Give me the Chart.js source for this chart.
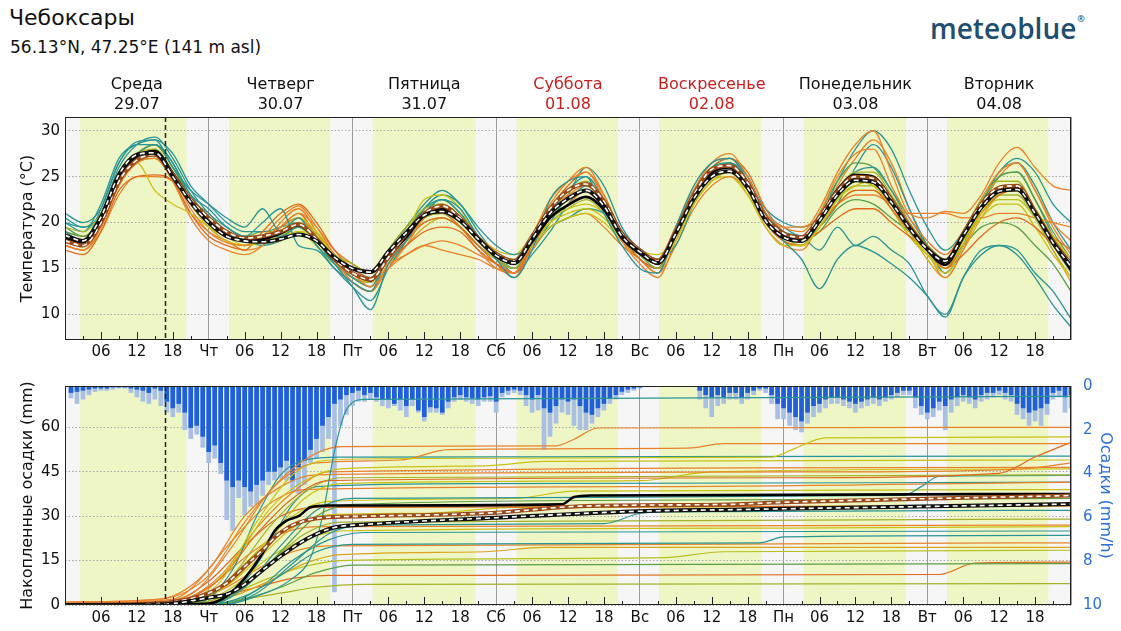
<!DOCTYPE html>
<html lang="ru">
<head>
<meta charset="utf-8">
<title>Чебоксары</title>
<script src="https://cdn.jsdelivr.net/npm/chart.js@4/dist/chart.umd.min.js"></script>
<style>
  html, body { margin: 0; padding: 0; background: #fff; }
  body { width: 1121px; height: 631px; position: relative; overflow: hidden; font-family: "DejaVu Sans", sans-serif; color: #111; }
  .abs { position: absolute; }
  #place { left: 9px; top: 5px; font-size: 22px; }
  #coords { left: 10px; top: 37px; font-size: 17px; }
  #logo { left: 930px; top: 9px; font-family: "Open Sans", sans-serif; font-weight: 600; font-size: 28px; color: #1f4e6f; }
  #logo sup { font-size: 9px; vertical-align: top; position: relative; top: 3px; margin-left: 1px; }
  #tempChart { left: 0; top: 60px; }
  #precipChart { left: 0; top: 372px; }
</style>
</head>
<body>
<div id="place" class="abs">Чебоксары</div>
<div id="coords" class="abs">56.13°N, 47.25°E (141 m asl)</div>
<div id="logo" class="abs">meteoblue<sup>®</sup></div>
<canvas id="tempChart" class="abs" width="1121" height="312"></canvas>
<canvas id="precipChart" class="abs" width="1121" height="259"></canvas>
<script>
Chart.defaults.font.family = '"DejaVu Sans", sans-serif';
Chart.defaults.color = '#111';

// ---- labels / ticks ----
const dayNames = ['Среда', 'Четверг', 'Пятница', 'Суббота', 'Воскресенье', 'Понедельник', 'Вторник'];
const dayDates = ['29.07', '30.07', '31.07', '01.08', '02.08', '03.08', '04.08'];
const weekend = [false, false, false, true, true, false, false];
const dayAbbr = ['Ср', 'Чт', 'Пт', 'Сб', 'Вс', 'Пн', 'Вт', 'Ср'];
const tempTicks = [10, 15, 20, 25, 30];
const precipTicks = [0, 15, 30, 45, 60];
const rateTicks = [0, 2, 4, 6, 8, 10];

// daylight (hours after midnight) and current time
const sunrise = [2.5, 3.4, 3.4, 3.4, 3.2, 3.3, 3.3];
const sunset = [20.3, 20.3, 20.5, 20.3, 20.3, 20.4, 20.2];
const nowHour = 16.7;

// ---- temperature, every 3 hours from Wed 00:00 ----
const tempHours = Array.from({length: 57}, (_, i) => i * 3);

const tempMean = [18.3,17.8,20.3,25.0,27.2,27.8,25.4,22.5, 20.3,18.8,18.1,18.2,18.8,19.7,18.1,15.9,
  14.5,13.7,16.3,18.4,20.8,21.5,20.3,18.1, 16.3,15.5,17.9,20.5,21.9,22.8,21.4,18.3,
  16.6,15.5,18.8,22.8,25.4,26.0,23.9,20.3, 18.4,18.3,20.6,23.6,25.2,25.0,22.6,19.5,
  17.0,15.4,18.4,21.7,23.7,23.9,21.0,17.7, 14.8];
const tempDashA = [18.0,17.5,20.0,24.5,26.8,27.4,25.2,22.5, 20.5,19.0,18.3,18.5,19.0,19.8,18.2,16.0,
  14.5,13.8,16.2,18.8,21.0,21.8,20.5,18.3, 16.6,15.8,18.5,21.5,23.5,24.2,22.3,18.8,
  17.0,15.8,19.0,23.0,25.8,26.2,24.3,20.6, 18.8,18.4,20.6,23.4,25.0,24.8,22.5,19.6,
  17.2,15.8,18.8,22.0,23.8,24.0,21.2,18.0, 15.5];
const tempDashB = [18.6,18.0,20.6,25.2,27.4,27.6,25.0,22.2, 20.0,18.5,18.0,17.9,18.2,18.7,18.0,16.2,
  15.0,14.6,16.8,18.9,20.8,21.2,20.2,18.2, 16.4,15.6,18.2,21.0,22.6,23.5,21.8,18.5,
  16.8,15.6,18.8,22.6,25.0,25.6,23.8,20.2, 18.4,18.0,20.2,23.0,24.6,24.4,22.2,19.4,
  17.1,15.8,18.6,21.6,23.4,23.6,21.0,17.8, 15.2];

const tempMembers = [
  [21.0,20.0,21.5,26.5,28.8,29.0,26.0,23.5, 22.0,20.5,19.5,21.5,19.0,20.5,17.5,15.5, 13.0,10.5,15.5,18.0,21.0,22.5,21.5,18.5, 16.0,14.0,17.0,22.5,24.5,25.0,21.0,17.5, 15.0,14.5,19.5,24.0,26.5,27.0,24.5,20.5, 18.0,16.0,12.8,16.0,17.5,16.8,15.5,14.0, 12.0,9.7,14.0,17.0,17.5,16.5,14.0,11.0, 8.6],
  [17.5,17.0,19.5,24.5,26.5,27.5,25.0,21.5, 19.0,17.8,17.5,18.5,20.5,21.8,19.5,16.5, 14.5,13.0,15.0,16.5,17.5,17.0,16.5,16.0, 15.0,14.5,18.5,22.5,24.5,25.5,22.5,18.0, 17.0,16.0,19.5,23.5,26.5,27.5,25.0,21.0, 19.5,19.0,21.5,25.5,28.5,30.0,25.5,21.0, 20.5,21.2,21.0,23.0,26.5,28.2,26.0,24.0, 23.5],
  [18.5,18.0,20.0,24.5,26.5,23.5,22.0,21.0, 19.5,18.5,17.5,17.8,18.0,19.0,18.5,16.5, 15.0,14.5,16.5,19.0,22.5,23.0,21.5,18.0, 16.5,16.0,17.5,19.5,20.5,21.0,20.0,18.0, 16.5,15.5,18.0,22.0,24.5,25.5,23.0,19.5, 17.5,17.5,19.5,22.5,24.5,24.0,22.0,19.0, 16.5,14.5,17.5,21.0,23.5,24.0,21.5,18.5, 16.0],
  [19.5,19.0,21.0,25.5,27.5,28.0,25.5,22.0, 20.0,18.5,18.0,18.5,19.0,20.0,18.8,16.5, 15.5,14.5,17.0,19.5,21.5,22.0,20.5,18.5, 16.0,15.0,18.5,21.5,23.5,24.5,22.0,18.5, 16.5,15.0,18.5,22.5,25.0,26.0,24.0,20.5, 18.5,18.0,20.0,23.5,25.5,25.5,23.0,20.0, 17.5,16.0,19.0,22.5,24.5,24.5,21.5,18.5, 15.5],
  [17.0,16.5,19.0,23.5,25.0,25.2,24.5,21.0, 18.5,17.5,17.0,19.0,21.0,22.0,20.0,17.0, 15.0,14.0,16.0,17.5,19.0,19.5,19.0,17.0, 15.5,14.5,17.5,20.5,22.0,23.5,21.5,18.5, 16.0,15.0,19.0,23.0,25.5,26.0,24.0,20.0, 18.0,17.5,19.5,22.0,23.5,23.5,21.5,19.0, 17.0,15.0,17.5,21.0,23.0,23.5,21.0,18.5, 17.0],
  [19.0,18.0,21.5,26.5,28.5,28.5,26.5,23.0, 21.5,19.5,18.5,20.0,21.5,17.5,17.0,15.0, 13.5,12.5,16.5,19.0,21.5,22.5,21.0,18.5, 16.0,15.0,18.0,21.0,23.5,25.0,22.5,19.0, 16.5,15.0,19.5,23.5,26.0,26.5,25.0,21.0, 19.0,18.5,17.0,19.5,17.5,18.5,17.0,15.5, 12.0,10.0,14.0,16.5,17.5,17.0,14.5,12.5, 9.5],
  [18.0,17.5,20.0,25.0,27.0,27.5,25.0,22.0, 19.5,18.0,17.5,18.0,19.0,20.5,19.0,16.5, 14.5,13.5,16.0,18.5,21.0,22.0,20.5,18.0, 16.0,15.5,18.0,20.0,21.0,21.5,20.5,18.0, 16.5,15.5,18.5,22.0,24.5,25.5,23.5,20.0, 18.0,17.5,19.5,22.5,24.0,24.5,22.0,19.0, 16.5,15.0,18.0,21.0,23.0,23.5,21.0,17.5, 14.5],
  [18.0,17.5,19.5,24.5,27.0,27.5,24.5,20.5, 18.0,17.0,16.5,17.5,20.0,21.5,19.0,16.0, 13.5,12.5,15.0,17.5,20.5,21.5,20.5,18.0, 16.0,14.5,18.5,22.0,24.5,26.0,23.0,18.5, 16.0,14.5,19.0,23.5,26.5,27.0,24.5,20.5, 18.5,18.0,21.0,25.0,27.5,28.0,24.0,20.5, 18.0,16.5,19.0,22.5,25.5,26.5,23.5,20.0, 18.0],
  [20.5,19.5,21.0,26.0,28.5,29.3,27.0,23.5, 21.0,19.5,18.5,18.5,18.5,19.5,18.0,15.5, 14.0,13.0,16.5,19.5,22.0,23.5,22.0,19.5, 17.5,16.5,17.5,19.5,20.5,21.5,21.0,19.0, 17.0,16.0,17.5,22.0,25.5,26.5,24.5,21.0, 19.5,18.5,20.5,23.0,25.5,26.0,23.5,20.5, 17.5,14.5,17.5,22.0,25.5,26.5,24.0,20.0, 17.0],
  [18.5,18.0,20.5,25.0,27.0,28.0,25.5,22.5, 20.5,19.0,18.0,18.0,18.5,19.5,17.5,15.5, 14.0,13.5,16.5,18.5,20.5,21.0,20.0,18.0, 16.5,15.5,18.0,21.0,22.5,23.5,21.5,18.0, 16.5,15.5,18.5,22.5,25.0,25.5,23.5,20.0, 18.5,18.0,20.5,23.0,24.5,24.0,22.0,19.5, 17.0,15.5,18.0,21.0,22.5,22.5,20.5,17.5, 15.0],
  [17.5,17.0,19.0,23.0,25.0,25.0,24.5,22.0, 19.5,18.0,17.5,18.0,19.5,21.0,19.5,17.0, 15.5,14.5,15.5,16.5,17.5,18.0,17.5,16.5, 15.5,14.5,17.0,19.5,20.5,21.0,19.5,17.5, 16.0,14.5,17.5,21.5,24.0,25.0,23.5,20.5, 19.5,19.5,20.5,22.0,23.0,23.0,22.0,21.0, 21.0,21.0,20.5,20.5,21.0,21.0,20.5,20.0, 19.5],
  [19.0,18.5,20.5,25.5,27.5,28.5,26.0,23.0, 20.5,19.0,18.5,18.5,19.0,19.5,18.0,16.0, 14.5,13.5,17.0,19.5,21.5,22.0,20.5,18.5, 16.5,15.5,18.5,21.0,22.5,23.5,22.0,18.5, 17.0,16.0,19.0,23.0,25.5,26.0,24.0,20.5, 18.5,18.5,21.0,24.5,26.5,26.0,23.5,20.0, 17.5,16.0,18.5,22.5,25.0,25.5,22.5,19.0, 16.0],
  [18.0,17.5,20.0,24.5,26.5,27.5,25.5,22.5, 20.5,19.0,18.0,18.0,19.5,21.0,18.5,16.0, 14.0,13.5,16.0,18.0,20.0,20.5,19.5,17.5, 15.5,14.0,17.5,21.5,24.0,25.5,23.0,19.0, 17.0,16.0,19.5,23.5,26.0,27.0,25.5,21.5, 19.0,18.0,19.0,20.5,21.5,21.5,20.0,18.5, 17.0,15.0,16.5,18.5,20.0,20.5,19.5,17.5, 15.5],
  [19.0,18.5,20.5,25.0,27.0,27.5,25.0,22.0, 20.0,18.5,18.0,18.0,18.5,19.0,17.5,15.5, 15.0,14.5,17.0,19.5,21.0,21.5,20.5,18.5, 17.0,16.5,18.5,20.5,21.5,22.0,21.0,18.5, 17.0,16.5,18.5,22.0,24.5,25.0,23.0,20.0, 18.0,17.5,19.5,22.0,23.5,23.5,21.5,18.5, 16.5,15.5,18.0,20.5,22.0,22.0,19.5,16.5, 14.0],
  [20.0,19.5,20.5,25.0,27.5,28.5,26.5,22.5, 20.5,19.0,18.0,17.5,18.0,19.0,17.5,15.0, 13.0,11.5,15.0,18.0,21.5,23.0,22.0,19.0, 16.5,14.5,16.5,19.0,22.0,24.0,22.5,18.5, 16.0,15.0,18.5,23.0,26.0,27.0,25.0,21.0, 19.0,18.0,19.5,22.0,26.0,28.5,26.0,21.5, 17.5,14.5,17.5,22.0,25.0,25.5,22.5,18.5, 14.5],
  [17.5,17.0,19.5,24.0,26.5,27.0,24.5,21.0, 19.0,18.0,17.0,17.5,19.5,20.5,18.5,15.5, 13.5,12.5,15.5,18.0,20.5,21.0,19.5,17.0, 15.0,14.5,18.0,21.0,23.0,24.0,22.0,18.0, 15.5,14.0,18.0,22.5,25.0,25.5,23.5,19.5, 17.5,17.0,20.0,24.0,27.0,29.0,26.5,21.5, 17.0,14.0,17.0,21.5,25.0,26.5,23.5,19.5, 16.5],
  [18.5,17.5,20.0,24.5,26.5,27.0,25.0,22.0, 20.0,18.5,18.0,18.0,18.5,19.5,18.5,16.5, 15.5,14.5,16.5,18.5,20.0,20.5,19.5,17.5, 16.0,15.0,17.5,20.0,21.5,22.5,21.0,18.0, 16.5,15.5,19.0,23.0,25.5,26.0,24.0,20.5, 18.5,17.5,19.5,22.5,24.0,24.0,21.5,18.5, 16.5,15.0,18.0,21.5,23.0,23.0,20.5,17.0, 14.0],
  [20.0,19.0,22.0,27.0,28.5,29.0,27.5,24.0, 22.0,20.0,19.0,19.0,19.5,20.0,18.5,16.5, 15.0,14.0,16.5,18.5,20.5,21.0,19.5,17.5, 16.0,15.0,17.0,20.0,23.0,26.0,24.0,19.5, 17.0,16.0,19.5,23.0,25.0,25.5,24.5,21.5, 20.0,19.5,20.5,24.5,28.0,30.0,28.0,23.5, 19.5,17.0,19.0,22.5,25.5,27.0,25.5,22.0, 20.0],
  [18.0,17.5,20.0,24.5,27.0,27.5,25.0,22.0, 19.5,18.5,18.0,18.5,19.5,20.5,18.5,16.0, 14.0,13.0,15.5,17.5,19.5,20.5,19.5,17.5, 16.0,15.5,18.5,21.5,23.0,23.5,21.5,18.0, 16.0,15.0,18.5,22.5,25.0,25.5,23.5,20.0, 18.0,17.5,20.0,23.5,25.0,25.0,22.0,19.0, 16.0,14.0,17.0,20.5,23.0,23.5,20.5,17.0, 13.5],
  [19.5,18.5,20.5,25.5,27.5,28.5,26.0,22.5, 21.0,19.0,18.5,19.0,19.0,19.5,18.0,15.5, 14.5,13.5,16.0,19.0,21.5,22.5,21.0,18.5, 16.5,15.0,17.5,20.5,22.5,23.5,22.0,18.5, 16.5,15.5,18.5,22.5,25.5,26.5,24.5,20.5, 18.5,18.0,19.0,21.5,22.5,22.0,20.5,19.0, 17.5,16.0,17.5,19.5,20.0,19.5,17.5,15.5, 12.5]
];

// ---- accumulated precipitation [hour, mm] ----
const precipMean = [[0,0],[16,0.1],[24,0.5],[27,3],[30,9],[33,17.5],[35,25],[37,28.5],[39,30],[41,33],[44,33.6],[83,34],[85,36.5],[88,37],[168,37.5]];
const precipDashA = [[0,0],[12,0.3],[18,1],[24,4],[27,7.4],[30,13],[33,18.6],[36,24.5],[39,27.8],[43,29.5],[50,30],[72,31.2],[86,33.4],[111,34],[120,34.7],[168,37]];
const precipDashB = [[0,0],[16,0.2],[20,1],[24,2.5],[27,3.6],[30,7],[33,11.8],[36,16.5],[39,20.7],[42,24],[45,26.2],[50,27.2],[72,29.5],[96,31.7],[111,32.2],[120,32.5],[168,34.1]];

const precipMembers = [
  [[0,0],[26,0],[32,3],[38,9],[41,16],[43,30],[45,52],[47,66],[50,69.5],[168,70.5]],
  [[0,0],[16,1],[22,5],[28,20],[34,38],[40,49],[46,53.5],[82,53.8],[85,56],[89,59.8],[168,60]],
  [[0,0],[20,1],[26,8],[32,28],[38,44],[44,49],[60,49.5],[118,50],[122,53],[127,56.5],[168,56.8]],
  [[0,1],[16,2],[24,10],[30,28],[36,42],[42,48],[56,49],[64,52.5],[104,53],[110,54.5],[168,54.5]],
  [[0,0],[18,1],[26,9],[32,24],[38,36],[44,42],[120,43],[156,44.5],[162,50],[168,55]],
  [[0,0],[22,0.5],[28,12],[32,30],[36,44],[40,49],[46,50],[168,50.3]],
  [[0,0],[20,1],[28,14],[34,32],[40,42],[46,46],[70,47],[80,48.5],[168,49]],
  [[0,0.5],[18,2],[24,12],[30,30],[36,40],[42,44],[130,45],[160,46],[168,48]],
  [[0,0],[22,1],[28,10],[34,26],[40,38],[46,43],[168,44]],
  [[0,0],[20,0.5],[28,8],[34,22],[40,36],[46,41],[96,42],[108,45],[168,46]],
  [[0,0],[24,0],[30,6],[36,20],[42,32],[48,36],[140,37],[143,40],[146,43.5],[168,43.8]],
  [[0,1],[16,2],[22,8],[28,22],[34,34],[40,39],[100,40],[168,41.5]],
  [[0,0],[24,0.5],[30,6],[36,18],[42,30],[48,34],[110,35.5],[168,36]],
  [[0,0],[20,1],[26,6],[32,18],[38,30],[44,35],[75,36],[85,38.5],[168,39]],
  [[0,0],[18,1.5],[24,8],[30,20],[36,30],[42,33],[168,33.5]],
  [[0,0],[26,0],[32,4],[38,14],[44,24],[50,27],[90,27.5],[96,31],[100,31.5],[168,32]],
  [[0,0],[22,0.5],[28,5],[34,14],[40,24],[46,28],[168,29]],
  [[0,0],[22,1],[28,6],[34,16],[40,22],[46,25],[120,26],[168,26.5]],
  [[0,0],[24,0],[30,3],[36,10],[42,18],[48,20.5],[116,21],[120,23],[168,23.5]],
  [[0,0.5],[20,1.5],[26,5],[32,12],[38,18],[44,20],[168,21]],
  [[0,0],[22,0.5],[28,3],[34,8],[40,14],[46,17],[70,18],[80,19.5],[168,19.5]],
  [[0,0],[24,0],[30,2],[36,6],[42,11],[48,13.5],[168,14]],
  [[0,0.5],[20,1],[26,3],[32,6],[38,9],[44,10],[146,10.3],[152,14.2],[168,14.5]],
  [[0,0],[24,0.5],[30,2],[36,4],[42,6],[50,7],[168,7.2]],
  [[0,0],[18,1],[24,6],[30,16],[36,24],[42,26.5],[168,27]],
  [[0,0],[20,0.5],[26,5],[32,15],[38,26],[44,30.5],[60,31],[75,33],[168,33.5]],
  [[0,0],[26,0],[32,5],[38,15],[44,22],[50,24.5],[168,25]],
  [[0,0],[18,1],[26,10],[32,26],[38,38],[44,45],[168,46.5]],
  [[0,0],[22,0.5],[28,4],[34,9],[40,13],[46,15],[100,16],[110,18],[168,18.5]],
  [[0,0],[24,0],[30,8],[34,20],[38,34],[42,40],[70,41],[168,41.5]]
];

// ---- hourly precipitation rate (mm/h), hour ending ----
const rateHours = Array.from({length: 168}, (_, i) => i + 1);
const rateMedian = [
  0.3,0.25,0.2,0.15,0.1,0.1,0.1,0.05,0.05,0.05,0.1,0.15,
  0.2,0.3,0.1,0.2,0.7,1.0,0.8,1.2,1.9,1.8,2.3,3.0,
  2.7,3.5,4.3,4.6,4.3,4.6,4.8,4.5,4.3,3.9,3.9,3.7,
  3.4,4.3,3.7,3.4,2.9,2.4,1.8,1.4,0.8,0.6,0.4,0.3,
  0.2,0.4,0.3,0.5,0.6,0.6,0.8,0.6,0.9,0.6,1.1,1.4,
  0.95,1.0,1.2,0.7,0.5,0.4,0.5,0.55,0.6,0.5,0.45,0.7,
  0.3,0.2,0.15,0.2,0.4,0.6,0.4,1.0,1.2,0.9,0.6,0.7,
  0.6,0.9,1.2,1.3,1.0,0.8,0.55,0.4,0.25,0.15,0.1,0.05,
  0,0,0,0,0,0,0,0,0,0.2,0.4,0.5,
  0.4,0.5,0.3,0.3,0.5,0.3,0.2,0.1,0.1,0.4,0.8,1.0,
  1.2,1.4,1.6,1.2,0.9,0.8,0.6,0.5,0.5,0.6,0.7,0.8,
  0.7,0.6,0.5,0.6,0.5,0.4,0.3,0.2,0.2,0.5,0.9,1.2,
  1.0,0.7,0.9,0.6,0.5,0.4,0.5,0.6,0.4,0.3,0.3,0.2,
  0.3,0.4,0.8,1.0,1.2,1.1,1.0,0.8,0.3,0.2,0.5,0.4
];
const rateUpper = [
  0.55,0.8,0.6,0.4,0.25,0.2,0.2,0.15,0.1,0.1,0.3,0.5,
  0.7,0.8,0.6,0.9,1.2,1.4,1.2,2.0,2.4,2.2,2.8,3.5,
  3.3,4.0,6.1,6.6,5.1,5.9,5.5,5.4,5.0,4.5,4.3,4.2,
  4.3,4.8,4.9,4.5,3.5,3.3,3.0,2.4,9.4,1.8,1.3,0.9,
  0.7,0.7,0.6,0.7,0.9,1.0,0.9,1.1,1.4,0.9,1.2,1.6,
  1.2,1.2,1.3,1.0,0.7,0.6,0.7,0.8,0.9,0.7,0.7,1.2,
  0.5,0.4,0.3,0.4,0.9,1.2,1.1,2.9,2.3,1.7,1.2,1.3,
  1.8,2.0,2.0,1.7,1.4,1.1,0.8,0.6,0.4,0.3,0.2,0.1,
  0,0,0,0,0,0,0,0,0,0.6,1.0,1.4,
  0.9,0.8,0.6,0.6,0.8,0.6,0.4,0.2,0.3,0.8,1.5,1.5,
  1.8,2.0,2.1,1.7,1.4,1.2,1.0,0.8,0.8,0.9,1.0,1.2,
  1.0,0.9,0.8,0.9,0.7,0.6,0.5,0.4,0.4,1.0,1.3,1.5,
  1.4,1.1,2.0,1.2,0.9,0.7,0.8,1.0,0.7,0.6,0.5,0.4,
  0.6,0.7,1.3,1.5,1.8,1.6,1.8,1.3,0.6,0.5,1.2,1.0
];

// ---- colours ----
const teal = '#2a9595', orange = '#e8832b', yellow = '#cbc115', olive = '#a6b22c',
  green = '#5c9e46', dkorange = '#de6b1f', ygreen = '#b6c01f', gold = '#dba41d';
const tempPalette = [teal, orange, yellow, olive, dkorange, teal, yellow, orange, teal, ygreen,
  orange, green, dkorange, yellow, teal, orange, olive, teal, gold, green];
const precipPalette = [teal, orange, yellow, orange, dkorange, teal, yellow, orange, olive, yellow,
  teal, orange, green, yellow, dkorange, teal, olive, yellow, teal, orange,
  gold, green, dkorange, olive, orange, yellow, teal, orange, ygreen, teal];
const rateBlue = '#2a6fdb';

function pairs(hours, vals) { return vals.map((v, i) => ({x: hours[i], y: v})); }
function xy(list) { return list.map(p => ({x: p[0], y: p[1]})); }

function line(data, color, width, order, extra) {
  return Object.assign({
    type: 'line', data: data, borderColor: color, borderWidth: width,
    pointRadius: 0, fill: false, cubicInterpolationMode: 'monotone', order: order
  }, extra || {});
}

// mean (black), two white dashed with dark edge
function summaryLines(mean, dashA, dashB) {
  return [
    line(mean, '#000', 2.6, 6),
    line(dashA, '#9a4a18', 4, 5),
    line(dashA, '#fff', 1.6, 4, {borderDash: [5, 4]}),
    line(dashB, '#111', 4, 3),
    line(dashB, '#fff', 1.6, 2, {borderDash: [5, 4]})
  ];
}

function hourLabel(v) {
  if (v <= 0 || v >= 168) return '';
  if (v % 24 === 0) return dayAbbr[v / 24];
  if (v % 6 === 0) return String(v % 24).padStart(2, '0');
  return '';
}

function hourAxis(height, pad) {
  return {
    type: 'linear', min: 0, max: 168, offset: false,
    afterBuildTicks: s => { s.ticks = []; for (let h = 0; h <= 168; h += 3) s.ticks.push({value: h}); },
    afterFit: s => { s.height = height; },
    grid: {
      offset: false, drawTicks: false, lineWidth: 1,
      color: c => (c.tick && c.tick.value % 24 === 0) ? '#9c9c9c' : 'rgba(0,0,0,0)'
    },
    border: { display: false },
    ticks: { autoSkip: false, maxRotation: 0, padding: pad, color: '#111', font: {size: 15}, callback: v => hourLabel(v) }
  };
}

const decor = {
  id: 'decor',
  beforeDraw(chart) {
    const {ctx, chartArea: a} = chart;
    const x = chart.scales.x;
    ctx.save();
    ctx.fillStyle = '#f5f6f5';
    ctx.fillRect(a.left, a.top, a.width, a.height);
    ctx.fillStyle = '#eef6c6';
    sunrise.forEach((s, d) => {
      const x0 = x.getPixelForValue(d * 24 + s);
      const x1 = x.getPixelForValue(d * 24 + sunset[d]);
      ctx.fillRect(x0, a.top, x1 - x0, a.height);
    });
    ctx.restore();
  },
  afterDatasetsDraw(chart) {
    const {ctx, chartArea: a} = chart;
    const x = chart.scales.x;
    ctx.save();
    const xn = Math.round(x.getPixelForValue(nowHour)) + 0.5;
    ctx.strokeStyle = '#222';
    ctx.lineWidth = 1.5;
    ctx.setLineDash([5, 3]);
    ctx.beginPath(); ctx.moveTo(xn, a.top); ctx.lineTo(xn, a.bottom); ctx.stroke();
    ctx.setLineDash([]);
    ctx.lineWidth = 1;
    ctx.beginPath();
    for (let h = 3; h < 168; h += 3) {
      if (h % 24 === 0) continue;
      const px = Math.round(x.getPixelForValue(h)) + 0.5;
      ctx.moveTo(px, a.bottom);
      ctx.lineTo(px, a.bottom - (h % 6 === 0 ? 8 : 4));
    }
    ctx.stroke();
    ctx.strokeRect(Math.round(a.left) + 0.5, Math.round(a.top) + 0.5, Math.round(a.width) - 1, Math.round(a.height) - 1);
    ctx.restore();
  }
};

const baseOptions = {
  responsive: false, animation: false, devicePixelRatio: 1, events: [],
  plugins: { legend: { display: false }, tooltip: { enabled: false } }
};

// ---- temperature chart ----
const tempDatasets = tempMembers.map((m, i) => line(pairs(tempHours, m), tempPalette[i], 1.3, 10))
  .concat(summaryLines(pairs(tempHours, tempMean), pairs(tempHours, tempDashA), pairs(tempHours, tempDashB)));

new Chart(document.getElementById('tempChart'), {
  type: 'line',
  data: { datasets: tempDatasets },
  options: Object.assign({}, baseOptions, {
    layout: { padding: { right: 50 } },
    scales: {
      x: hourAxis(32, 3),
      days: {
        axis: 'x', type: 'linear', position: 'top', min: 0, max: 168,
        afterBuildTicks: s => { s.ticks = dayNames.map((_, i) => ({value: i * 24 + 12})); },
        afterFit: s => { s.height = 57; },
        grid: { display: false }, border: { display: false },
        ticks: {
          autoSkip: false, maxRotation: 0, padding: -5, font: {size: 16},
          color: c => weekend[c.index] ? '#c81e1e' : '#111',
          callback: (v, i) => [dayNames[i], dayDates[i]]
        }
      },
      y: {
        min: 7.2, max: 31.5,
        afterBuildTicks: s => { s.ticks = tempTicks.map(v => ({value: v})); },
        afterFit: s => { s.width = 65; },
        grid: { drawTicks: false, color: '#a8a8a8' },
        border: { display: false, dash: [1.5, 2] },
        ticks: { padding: 5, color: '#111', font: {size: 15} },
        title: { display: true, text: 'Температура (°C)', color: '#111', font: {size: 16}, padding: {top: 18, bottom: 0} }
      }
    }
  }),
  plugins: [decor]
});

// ---- precipitation chart ----
const precipDatasets = precipMembers.map((m, i) => line(xy(m), precipPalette[i], 1.2, 10))
  .concat(summaryLines(xy(precipMean), xy(precipDashA), xy(precipDashB)))
  .concat([
    { type: 'bar', data: pairs(rateHours, rateMedian), yAxisID: 'y2', backgroundColor: '#1f5fd9', barThickness: 4, grouped: false, order: 20 },
    { type: 'bar', data: pairs(rateHours, rateUpper), yAxisID: 'y2', backgroundColor: '#a9bfe4', barThickness: 4, grouped: false, order: 21 }
  ]);

new Chart(document.getElementById('precipChart'), {
  type: 'line',
  data: { datasets: precipDatasets },
  options: Object.assign({}, baseOptions, {
    layout: { padding: { top: 9 } },
    scales: {
      x: hourAxis(26, 4),
      y: {
        min: 0, max: 74,
        afterBuildTicks: s => { s.ticks = precipTicks.map(v => ({value: v})); },
        afterFit: s => { s.width = 65; },
        grid: { drawTicks: false, color: '#a8a8a8' },
        border: { display: false, dash: [1.5, 2] },
        ticks: { padding: 5, color: '#111', font: {size: 15} },
        title: { display: true, text: 'Накопленные осадки (mm)', color: '#111', font: {size: 16}, padding: {top: 18, bottom: 0} }
      },
      y2: {
        position: 'right', type: 'linear', reverse: true, min: 0, max: 10,
        afterBuildTicks: s => { s.ticks = rateTicks.map(v => ({value: v})); },
        afterFit: s => { s.width = 50; },
        grid: { display: false }, border: { display: false },
        ticks: { padding: 4, color: rateBlue, font: {size: 15} },
        title: { display: true, text: 'Осадки (mm/h)', color: rateBlue, font: {size: 16}, padding: {top: 6, bottom: 0} }
      }
    }
  }),
  plugins: [decor]
});
</script>
</body>
</html>
